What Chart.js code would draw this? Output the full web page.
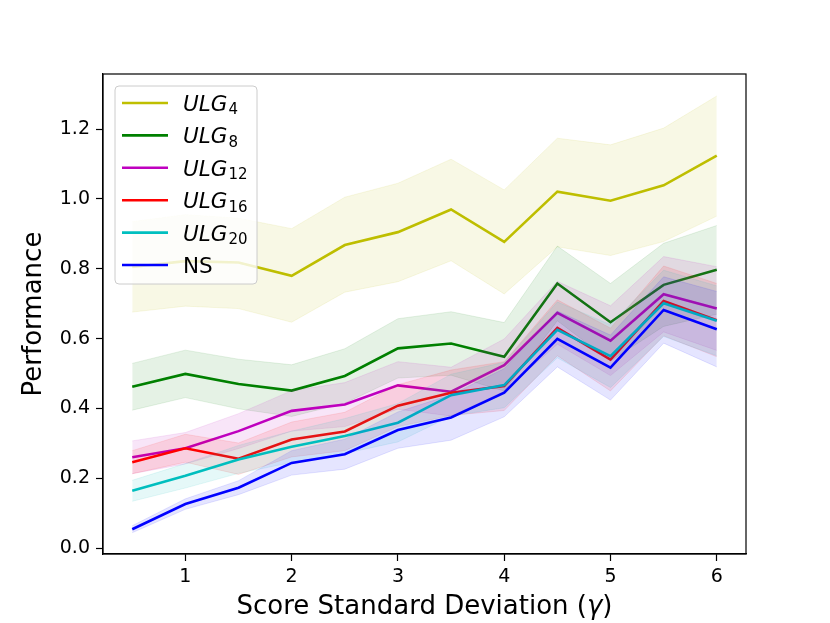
<!DOCTYPE html>
<html>
<head>
<meta charset="utf-8">
<script src="https://cdn.jsdelivr.net/npm/chart.js@4.4.1/dist/chart.umd.min.js"></script>
<style>
  body { margin: 0; background: #fff; }
</style>
</head>
<body>
<canvas id="perf" width="830" height="623"></canvas>
<script>
// score standard deviation values on the x axis
const gammas = [0.5, 1, 1.5, 2, 2.5, 3, 3.5, 4, 4.5, 5, 5.5, 6];
const xTicks = [1, 2, 3, 4, 5, 6];
const yTicks = [0, 0.2, 0.4, 0.6, 0.8, 1.0, 1.2];

const ulg4Mean  = [0.805, 0.822, 0.818, 0.780, 0.868, 0.905, 0.970, 0.877, 1.021, 0.995, 1.039, 1.124];
const ulg4Upper = [0.935, 0.955, 0.945, 0.915, 1.005, 1.045, 1.114, 1.026, 1.174, 1.155, 1.203, 1.295];
const ulg4Lower = [0.676, 0.693, 0.686, 0.647, 0.733, 0.763, 0.823, 0.728, 0.863, 0.838, 0.878, 0.951];

const ulg8Mean  = [0.462, 0.499, 0.470, 0.451, 0.493, 0.572, 0.586, 0.548, 0.758, 0.647, 0.754, 0.797];
const ulg8Upper = [0.529, 0.567, 0.541, 0.525, 0.571, 0.657, 0.677, 0.646, 0.865, 0.758, 0.873, 0.924];
const ulg8Lower = [0.395, 0.431, 0.399, 0.377, 0.415, 0.487, 0.495, 0.450, 0.651, 0.536, 0.635, 0.670];

const ulg12Mean  = [0.260, 0.286, 0.335, 0.393, 0.411, 0.466, 0.448, 0.524, 0.674, 0.594, 0.727, 0.686];
const ulg12Upper = [0.307, 0.331, 0.385, 0.451, 0.474, 0.534, 0.518, 0.599, 0.764, 0.694, 0.835, 0.806];
const ulg12Lower = [0.213, 0.241, 0.285, 0.335, 0.348, 0.398, 0.378, 0.449, 0.584, 0.494, 0.619, 0.566];

const ulg16Mean  = [0.246, 0.286, 0.256, 0.311, 0.334, 0.408, 0.445, 0.464, 0.631, 0.540, 0.708, 0.653];
const ulg16Upper = [0.279, 0.326, 0.301, 0.361, 0.389, 0.468, 0.510, 0.534, 0.711, 0.630, 0.808, 0.758];
const ulg16Lower = [0.213, 0.246, 0.211, 0.261, 0.279, 0.348, 0.380, 0.394, 0.551, 0.450, 0.608, 0.548];

const ulg20Mean  = [0.164, 0.207, 0.254, 0.290, 0.321, 0.359, 0.438, 0.467, 0.625, 0.550, 0.701, 0.651];
const ulg20Upper = [0.194, 0.242, 0.294, 0.335, 0.371, 0.414, 0.498, 0.532, 0.705, 0.640, 0.796, 0.751];
const ulg20Lower = [0.134, 0.172, 0.214, 0.245, 0.271, 0.304, 0.378, 0.402, 0.545, 0.460, 0.606, 0.551];

const nsMean  = [0.054, 0.126, 0.173, 0.244, 0.269, 0.338, 0.374, 0.445, 0.599, 0.517, 0.682, 0.627];
const nsUpper = [0.064, 0.141, 0.193, 0.279, 0.312, 0.390, 0.439, 0.514, 0.679, 0.610, 0.777, 0.735];
const nsLower = [0.044, 0.111, 0.153, 0.209, 0.226, 0.286, 0.309, 0.376, 0.519, 0.424, 0.587, 0.519];

const labelBase = ["ULG", "ULG", "ULG", "ULG", "ULG", "NS"];
const labelSub  = ["4", "8", "12", "16", "20", ""];

const FONT = "'DejaVu Sans', sans-serif";

const series = [
  { rgb: "191,191,0", mean: ulg4Mean,  hi: ulg4Upper,  lo: ulg4Lower },
  { rgb: "0,128,0",   mean: ulg8Mean,  hi: ulg8Upper,  lo: ulg8Lower },
  { rgb: "191,0,191", mean: ulg12Mean, hi: ulg12Upper, lo: ulg12Lower },
  { rgb: "255,0,0",   mean: ulg16Mean, hi: ulg16Upper, lo: ulg16Lower },
  { rgb: "0,191,191", mean: ulg20Mean, hi: ulg20Upper, lo: ulg20Lower },
  { rgb: "0,0,255",   mean: nsMean,    hi: nsUpper,    lo: nsLower },
];

function pts(arr) {
  return gammas.map((g, i) => ({ x: g, y: arr[i] }));
}

const datasets = [];
series.forEach((s, k) => {
  const band = {
    borderColor: `rgba(${s.rgb},0.1)`,
    borderWidth: 1,
    pointRadius: 0,
    order: 100 - (2 * k + 1),
  };
  datasets.push({ ...band, label: "lo" + k, data: pts(s.lo), fill: false });
  datasets.push({ ...band, label: "hi" + k, data: pts(s.hi), fill: "-1",
                  backgroundColor: `rgba(${s.rgb},0.1)` });
  datasets.push({
    label: labelBase[k] + labelSub[k],
    data: pts(s.mean),
    borderColor: `rgb(${s.rgb})`,
    borderWidth: 2.6,
    pointRadius: 0,
    fill: false,
    order: 100 - 2 * k,
  });
});

// frame, axis titles and matplotlib-like legend
const decor = {
  id: "decor",
  afterDraw(chart) {
    const ctx = chart.ctx;
    const ca = chart.chartArea;
    ctx.save();
    ctx.strokeStyle = "#000";
    ctx.lineWidth = 1.2;
    ctx.strokeRect(ca.left, ca.top, ca.right - ca.left, ca.bottom - ca.top);

    // y title
    ctx.fillStyle = "#000";
    ctx.save();
    ctx.translate(34, (ca.top + ca.bottom) / 2);
    ctx.rotate(-Math.PI / 2);
    ctx.font = "26px " + FONT;
    ctx.textAlign = "center";
    ctx.textBaseline = "middle";
    ctx.fillText("Performance", 0, 0);
    ctx.restore();

    // x title with italic gamma
    const parts = [["Score Standard Deviation (", "26px " + FONT], ["γ", "italic 26px " + FONT], [")", "26px " + FONT]];
    let total = 0;
    parts.forEach(p => { ctx.font = p[1]; total += ctx.measureText(p[0]).width; });
    let tx = (ca.left + ca.right) / 2 - total / 2;
    ctx.textAlign = "left";
    ctx.textBaseline = "alphabetic";
    parts.forEach(p => {
      ctx.font = p[1];
      ctx.fillText(p[0], tx, 614);
      tx += ctx.measureText(p[0]).width;
    });

    // legend
    const bx = ca.left + 12, by = ca.top + 12, bw = 142, bh = 198;
    ctx.beginPath();
    ctx.roundRect(bx, by, bw, bh, 4);
    ctx.fillStyle = "rgba(255,255,255,0.8)";
    ctx.fill();
    ctx.strokeStyle = "#cccccc";
    ctx.lineWidth = 1;
    ctx.stroke();
    series.forEach((s, k) => {
      const cy = by + 17 + k * 32.4;
      ctx.strokeStyle = `rgb(${s.rgb})`;
      ctx.lineWidth = 2.6;
      ctx.beginPath();
      ctx.moveTo(bx + 7, cy);
      ctx.lineTo(bx + 53, cy);
      ctx.stroke();
      ctx.fillStyle = "#000";
      const base = cy + 7.9;
      let lx = bx + 68;
      if (labelSub[k]) {
        ctx.font = "italic 21.5px " + FONT;
        ctx.fillText(labelBase[k], lx, base);
        lx += ctx.measureText(labelBase[k]).width + 1;
        ctx.font = "15px " + FONT;
        ctx.fillText(labelSub[k], lx, base + 3.5);
      } else {
        ctx.font = "21.5px " + FONT;
        ctx.fillText(labelBase[k], lx, base);
      }
    });
    ctx.restore();
  }
};

new Chart(document.getElementById("perf"), {
  type: "line",
  data: { datasets },
  plugins: [decor],
  options: {
    responsive: false,
    animation: false,
    layout: { padding: { left: 0, right: 84, top: 74, bottom: 0 } },
    plugins: {
      legend: { display: false },
      tooltip: { enabled: false },
    },
    elements: { line: { tension: 0 } },
    scales: {
      x: {
        type: "linear",
        min: 0.225,
        max: 6.275,
        afterBuildTicks: s => { s.ticks = xTicks.map(v => ({ value: v })); },
        afterFit: s => { s.height = 69; },
        ticks: {
          color: "#000",
          padding: 5,
          font: { family: FONT, size: 19 },
          callback: v => String(v),
        },
        grid: { drawOnChartArea: false, color: "#000", tickLength: 7, tickWidth: 1.2 },
        border: { color: "#000", width: 1.2 },
      },
      y: {
        min: -0.017,
        max: 1.358,
        afterBuildTicks: s => { s.ticks = yTicks.map(v => ({ value: v })); },
        afterFit: s => { s.width = 103; },
        ticks: {
          color: "#000",
          padding: 6,
          font: { family: FONT, size: 19 },
          callback: v => v.toFixed(1),
        },
        grid: { drawOnChartArea: false, color: "#000", tickLength: 7, tickWidth: 1.2 },
        border: { color: "#000", width: 1.2 },
      },
    },
  },
});
</script>
</body>
</html>
